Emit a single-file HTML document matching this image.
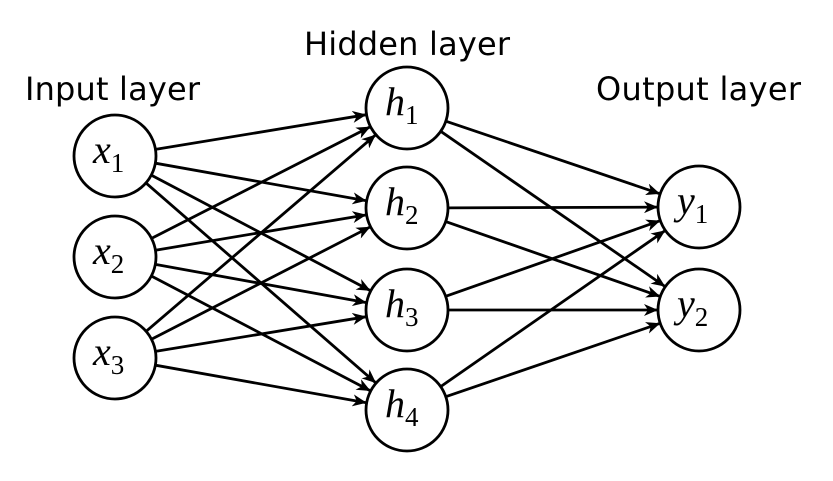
<!DOCTYPE html>
<html><head><meta charset="utf-8"><style>
html,body{margin:0;padding:0;background:#fff;}
svg{display:block;}
.lbl{font-family:"DejaVu Sans","Liberation Sans",sans-serif;font-size:32px;fill:#000;}
.m{font-family:"Liberation Serif",serif;font-style:italic;font-size:40px;}
.s{font-family:"Liberation Serif",serif;font-size:27px;font-style:normal;}
</style></head><body>
<svg id="s" width="833" height="481" viewBox="0 0 833 481" xmlns="http://www.w3.org/2000/svg">
<defs><marker id="a" markerWidth="14" markerHeight="12" refX="13" refY="6" orient="auto" markerUnits="userSpaceOnUse">
<path d="M0,0 L14,6 L0,12 L4,6 Z" fill="#000"/></marker></defs>
<text class="lbl" x="25" y="100" textLength="175">Input layer</text>
<text class="lbl" x="304" y="55" textLength="206">Hidden layer</text>
<text class="lbl" x="596" y="100" textLength="205">Output layer</text>
<g id="edges" stroke="#000" stroke-width="2.8" fill="none"></g>
<g id="nodes"></g>
</svg>
<script>
var X=[[115,156],[115,257],[115,358]],H=[[407,108],[407,208],[407,310],[407,410]],Y=[[699,207],[699,310]],r=41;
var e=document.getElementById('edges'),n=document.getElementById('nodes'),ns="http://www.w3.org/2000/svg";
function ln(a,b){var dx=b[0]-a[0],dy=b[1]-a[1],d=Math.hypot(dx,dy),ux=dx/d,uy=dy/d;
var l=document.createElementNS(ns,'line');l.setAttribute('x1',a[0]+ux*r);l.setAttribute('y1',a[1]+uy*r);
l.setAttribute('x2',b[0]-ux*(r+1));l.setAttribute('y2',b[1]-uy*(r+1));l.setAttribute('marker-end','url(#a)');e.appendChild(l);}
X.forEach(a=>H.forEach(b=>ln(a,b)));H.forEach(a=>Y.forEach(b=>ln(a,b)));
function nd(p,v,sub){var c=document.createElementNS(ns,'circle');c.setAttribute('cx',p[0]);c.setAttribute('cy',p[1]);c.setAttribute('r',r);
c.setAttribute('fill','#fff');c.setAttribute('stroke','#000');c.setAttribute('stroke-width','2.8');n.appendChild(c);
var t=document.createElementNS(ns,'text');t.setAttribute('x',p[0]-22);t.setAttribute('y',p[1]+7);t.setAttribute('class','m');
t.textContent=v;var ts=document.createElementNS(ns,'tspan');ts.setAttribute('class','s');ts.setAttribute('dy','9');ts.textContent=sub;t.appendChild(ts);n.appendChild(t);}
X.forEach((p,i)=>nd(p,'x',i+1));H.forEach((p,i)=>nd(p,'h',i+1));Y.forEach((p,i)=>nd(p,'y',i+1));
</script>
</body></html>
